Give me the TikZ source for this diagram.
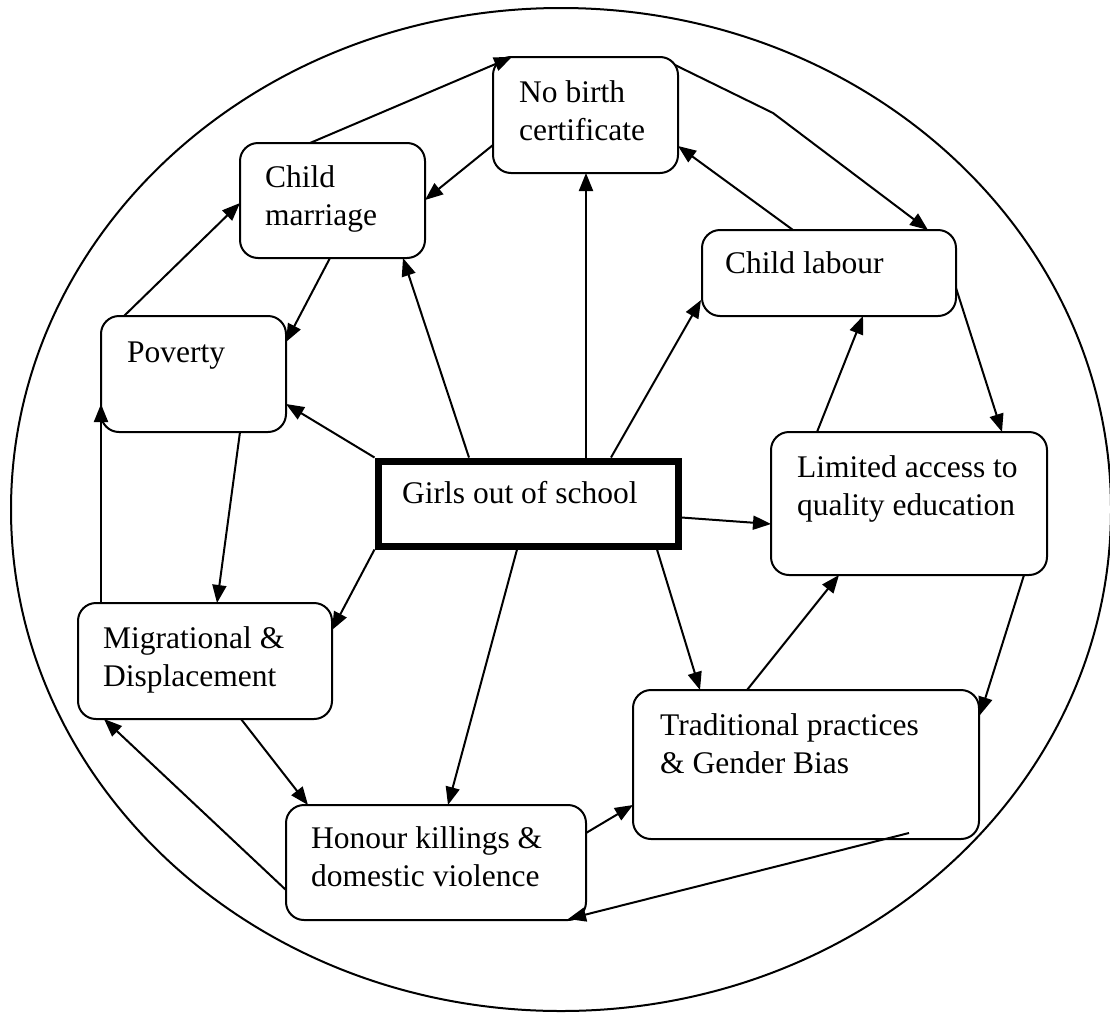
\documentclass[tikz,border=0pt]{standalone}
\usepackage{fontspec}
\setmainfont{Liberation Serif}
\usetikzlibrary{arrows.meta}
\begin{document}
\begin{tikzpicture}[x=1pt,y=-1pt,
  box/.style={draw, rounded corners=18pt, line width=2pt, inner sep=0pt, outer sep=0pt},
  mainbox/.style={draw, line width=7pt, inner sep=0pt},
  lbl/.style={anchor=north west, inner sep=0pt, align=left, font=\fontsize{31.5}{38}\selectfont},
  conn/.style={line width=2pt, -{Triangle[length=18pt,width=14pt]}},
  ring/.style={line width=2pt}
]
\useasboundingbox (0,0) rectangle (1110,1012);
\draw[ring] (561,509.5) ellipse [x radius=550pt, y radius=501.5pt];

% boxes
\node[box, minimum width=185pt, minimum height=116pt] (nb) at (585.5,115) {};
\node[box, minimum width=185pt, minimum height=115pt] (cm) at (332.5,200.5) {};
\node[box, minimum width=254pt, minimum height=86pt] (cl) at (829,273) {};
\node[box, minimum width=185pt, minimum height=116pt] (pv) at (193.5,374) {};
\node[mainbox, minimum width=300pt, minimum height=85pt] (gs) at (528,503.5) {};
\node[box, minimum width=276pt, minimum height=143pt] (la) at (909,503.5) {};
\node[box, minimum width=254pt, minimum height=116pt] (md) at (205,661) {};
\node[box, minimum width=300pt, minimum height=115pt] (hk) at (436,862.5) {};
\node[box, minimum width=346pt, minimum height=149pt] (tp) at (806,764.5) {};

% texts
\node[lbl] (nbt) at (519,75.4) {\strut No birth\\certificate};
\node[lbl] (cmt) at (265,160.4) {\strut Child\\marriage};
\node[lbl] (clt) at (725,246.4) {\strut Child labour};
\node[lbl] (pvt) at (127,335.4) {\strut Poverty};
\node[lbl] (gst) at (402,476.4) {\strut Girls out of school};
\node[lbl] (lat) at (797,450.4) {\strut Limited access to\\quality education};
\node[lbl] (mdt) at (103,621.4) {\strut Migrational \&\\Displacement};
\node[lbl] (hkt) at (311,821.4) {\strut Honour killings \&\\domestic violence};
\node[lbl] (tpt) at (660,708.4) {\strut Traditional practices\\\& Gender Bias};

% helper coordinates
\coordinate (bend) at (773,113);
\coordinate (tpin) at (909,833);

% connectors
\draw[conn] ([shift={(70,0)}]cm.north west) -- ([shift={(19,0)}]nb.north west);
\draw[conn] ([shift={(0,88)}]nb.north west) -- ([shift={(0,57)}]cm.north east);
\draw[conn] ([xshift=0.5pt]gs.north -| nb.south) -- ([xshift=0.5pt]nb.south);
\draw[conn] ([shift={(91,0)}]cl.north west) -- ([shift={(0,89)}]nb.north east);
\draw[conn] ([shift={(-3,8)}]nb.north east) -- (bend) -- ([shift={(226,0)}]cl.north west);
\draw[conn] ([shift={(83,0)}]gs.north) -- ([shift={(-1,-16)}]cl.south west);
\draw[conn] ([shift={(46,0)}]la.north west) -- ([shift={(161,0)}]cl.south west);
\draw[conn] ([shift={(0,58)}]cl.north east) -- ([shift={(231,0)}]la.north west);
\draw[conn] ([shift={(0,14)}]gs.east) -- ([shift={(0,20.5)}]la.west);
\draw[conn] ([shift={(253,0)}]la.south west) -- ([shift={(1,25)}]tp.north east);
\draw[conn] ([shift={(114,0)}]tp.north west) -- ([shift={(68,0)}]la.south west);
\draw[conn] ([shift={(129,0)}]gs.south) -- ([shift={(67,0)}]tp.north west);
\draw[conn] (tpin) -- ([shift={(-18,-1)}]hk.south east);
\draw[conn] ([shift={(0,28)}]hk.north east) -- ([shift={(0,115)}]tp.north west);
\draw[conn] ([shift={(-11,0)}]gs.south) -- ([shift={(162,0)}]hk.north west);
\draw[conn] ([shift={(163,0)}]md.south west) -- ([shift={(22,0)}]hk.north west);
\draw[conn] ([shift={(0,85)}]hk.north west) -- ([shift={(26,0)}]md.south west);
\draw[conn] (gs.south west) -- ([shift={(0,27)}]md.north east);
\draw[conn] ([shift={(139,0)}]pv.south west) -- ([shift={(139,0)}]md.north west);
\draw[conn] ([shift={(23,0)}]md.north west) -- ([shift={(0,88)}]pv.north west);
\draw[conn] ([shift={(23,0)}]pv.north west) -- ([shift={(0,60)}]cm.north west);
\draw[conn] ([shift={(90,0)}]cm.south west) -- ([shift={(0,26)}]pv.north east);
\draw[conn] (gs.north west) -- ([shift={(0,88)}]pv.north east);
\draw[conn] ([shift={(-59,0)}]gs.north) -- ([shift={(163,0)}]cm.south west);
\end{tikzpicture}
\end{document}
